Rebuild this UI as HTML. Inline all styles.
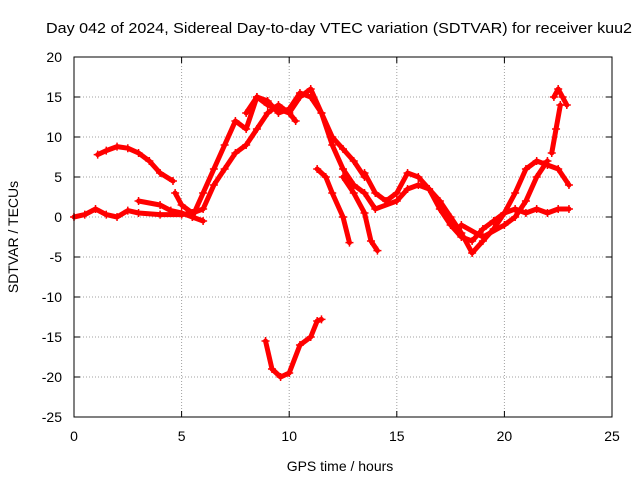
<!DOCTYPE html>
<html><head><meta charset="utf-8"><style>
body{margin:0;background:#fff;}
svg text{font-family:"Liberation Sans",sans-serif;font-size:14px;fill:#000;}
</style></head><body>
<svg id="chart" width="640" height="480" xmlns="http://www.w3.org/2000/svg">
<text x="46" y="33" textLength="586" lengthAdjust="spacingAndGlyphs" style="font-size:15px">Day 042 of 2024, Sidereal Day-to-day VTEC variation (SDTVAR) for receiver kuu2</text>
<text x="340" y="471" text-anchor="middle">GPS time / hours</text>
<text transform="translate(18,237) rotate(-90)" text-anchor="middle">SDTVAR / TECUs</text>
<g id="grid"></g><g id="ticks"></g><g id="series"></g>
<rect x="74" y="57" width="538" height="360" fill="none" stroke="#000" stroke-width="1"/>
</svg>
<script>
const xTicks=[0,5,10,15,20,25];
const yTicks=[20,15,10,5,0,-5,-10,-15,-20,-25];
const trackA=[[0,0],[0.5,0.3],[1,1],[1.5,0.3],[2,0],[2.5,0.8],[3,0.5],[4,0.3],[5,0.3],[5.5,0.5]];
const trackB=[[1.1,7.8],[1.5,8.3],[2,8.8],[2.5,8.6],[3,8],[3.5,7],[4,5.5],[4.6,4.5]];
const trackC=[[3,2],[4,1.5],[4.5,0.8],[5,0.5],[5.5,0],[6,-0.5]];
const trackD=[[4.7,3],[5,1.5],[5.5,0.5],[6,1],[6.5,4],[7,6],[7.5,8],[8,9],[8.5,11],[9,13],[9.5,14],[10,13],[10.5,15],[11,16],[11.5,13],[12,10],[12.5,8.5],[13,7],[13.5,5]];
const trackE=[[5.5,0],[6,3],[6.5,6],[7,9],[7.5,12],[8,11],[8.5,15],[9,14.5],[9.5,13],[10,13.5],[10.5,15.5],[11,15],[11.5,13],[12,9],[12.5,6],[13,4],[13.5,3],[14,1],[15,2],[15.5,3.5],[16,4],[16.5,3.5],[17,1],[17.5,-1],[18,-2.5],[18.5,-3],[19,-1.5],[19.5,-0.5],[20,0.5],[20.5,1],[21,0.5],[21.5,1],[22,0.5],[22.5,1],[23,1]];
const trackF=[[11.3,6],[11.7,5],[12,3],[12.5,0],[12.8,-3.2]];
const trackG=[[12.5,5],[13,3],[13.5,0.5],[13.8,-3],[14.1,-4.2]];
const trackH=[[13.5,5.5],[14,3],[14.5,2],[15,3],[15.5,5.5],[16,5],[16.5,3.5],[17,2],[17.5,0],[18,-2],[18.5,-4.5],[19,-3],[19.5,-1.5],[20,0.5],[20.5,3],[21,6],[21.5,7],[22,6.5],[22.5,6],[23,4]];
const trackI=[[22.3,15],[22.5,16],[22.7,15],[22.9,14]];
const trackJ=[[22.2,8],[22.4,11],[22.6,14]];
const trackK=[[8.9,-15.5],[9.2,-19],[9.6,-20],[10,-19.5],[10.5,-16],[11,-15],[11.3,-13],[11.5,-12.8]];
const trackL=[[18,-1],[19,-2.5],[20,-1],[20.5,0],[21,2],[21.5,5],[22,7]];
const trackM=[[8,13],[8.5,15],[9,14],[10,13],[10.3,12]];
const tracks=[trackA,trackB,trackC,trackD,trackE,trackF,trackG,trackH,trackI,trackJ,trackK,trackL,trackM];
const NS="http://www.w3.org/2000/svg";
const X0=74,X1=612,Y0=417,Y1=57,xMin=0,xMax=25,yMin=-25,yMax=20;
const sx=v=>X0+(v-xMin)/(xMax-xMin)*(X1-X0);
const sy=v=>Y0-(v-yMin)/(yMax-yMin)*(Y0-Y1);
const grid=document.getElementById('grid'),ticks=document.getElementById('ticks'),ser=document.getElementById('series');
function mk(tag,at,parent){const e=document.createElementNS(NS,tag);for(const k in at)e.setAttribute(k,at[k]);parent.appendChild(e);return e;}
xTicks.forEach(t=>{const x=sx(t);
 if(t>xMin&&t<xMax){const g=mk('line',{x1:x,x2:x,y1:Y1,y2:Y0,stroke:'#a0a0a0','stroke-dasharray':'1,2'},grid);
 
 }
 mk('line',{x1:x,x2:x,y1:Y0,y2:Y0-6,stroke:'#000'},ticks);mk('line',{x1:x,x2:x,y1:Y1,y2:Y1+6,stroke:'#000'},ticks);
 const l=mk('text',{x:x,y:Y0+24,'text-anchor':'middle'},ticks);l.textContent=t;
 
 });
yTicks.forEach(t=>{const y=sy(t);
 if(t>yMin&&t<yMax){const g=mk('line',{x1:X0,x2:X1,y1:y,y2:y,stroke:'#a0a0a0','stroke-dasharray':'1,2'},grid);
 
 }
 mk('line',{x1:X0,x2:X0+6,y1:y,y2:y,stroke:'#000'},ticks);mk('line',{x1:X1,x2:X1-6,y1:y,y2:y,stroke:'#000'},ticks);
 const l=mk('text',{x:X0-12,y:y+5,'text-anchor':'end'},ticks);l.textContent=t;
 
 });
tracks.forEach((tr,i)=>{
 const p=mk('polyline',{points:tr.map(d=>sx(d[0])+','+sy(d[1])).join(' '),fill:'none',stroke:'#f00','stroke-width':5,'stroke-linejoin':'round','stroke-linecap':'round'},ser);
 
 
 tr.forEach(d=>{const x=sx(d[0]),y=sy(d[1]);
  const m=mk('path',{d:`M${x-4},${y}H${x+4}M${x},${y-4}V${y+4}`,stroke:'#f00','stroke-width':1.5},ser);
  
  });
});
</script>
</body></html>
